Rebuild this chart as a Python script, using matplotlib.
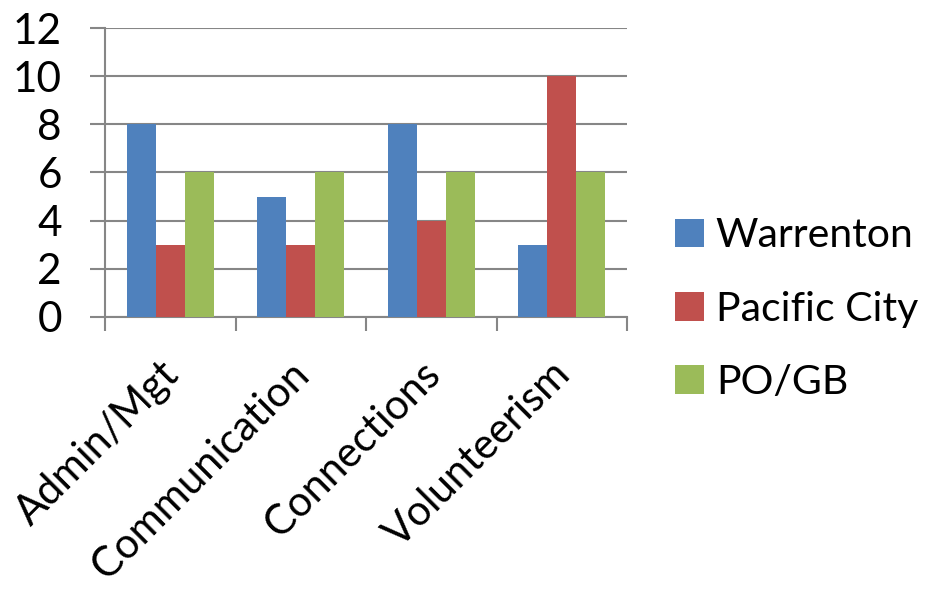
import numpy as np
import matplotlib.pyplot as plt
import matplotlib.transforms as mtransforms
from matplotlib.patches import Patch

# data
categories = ["Admin/Mgt", "Communication", "Connections", "Volunteerism"]
warrenton = [8, 5, 8, 3]
pacific_city = [3, 3, 4, 10]
po_gb = [6, 6, 6, 6]

series = [("Warrenton", warrenton, "#4F81BD"),
          ("Pacific City", pacific_city, "#C0504D"),
          ("PO/GB", po_gb, "#9BBB59")]

plt.rcParams['font.family'] = ['Lato', 'DejaVu Sans']

fig = plt.figure(figsize=(9.31, 5.93), dpi=100)
ax = fig.add_axes([105 / 931, 1 - 317 / 593, (627 - 105) / 931, (317 - 28) / 593])

x = np.arange(len(categories))
w = 1 / 4.5
for i, (name, vals, col) in enumerate(series):
    ax.bar(x + (i - 1) * w, vals, width=w, color=col, zorder=3)

ax.set_xlim(-0.5, len(categories) - 0.5)
ax.set_ylim(0, 12)
ax.set_yticks(range(0, 13, 2))
ax.yaxis.grid(True, color="#868686", linewidth=1.5, zorder=0)
ax.set_axisbelow(True)

for s in ["top", "right"]:
    ax.spines[s].set_visible(False)
for s in ["left", "bottom"]:
    ax.spines[s].set_color("#868686")
    ax.spines[s].set_linewidth(1.5)

ax.tick_params(axis="y", length=11, width=1.5, color="#868686", labelsize=30.5, pad=20)

# category labels at centres, tick marks at boundaries
ax.set_xticks(x)
ax.set_xticklabels(categories, rotation=45, ha="right", va="top",
                   rotation_mode="anchor", fontsize=30)
ax.tick_params(axis="x", which="major", length=0, pad=30)
ax.set_xticks(np.arange(-0.5, len(categories), 1), minor=True)
ax.tick_params(axis="x", which="minor", length=10, width=1.5, color="#868686")
shift = mtransforms.ScaledTranslation(-0.11, 0.04, fig.dpi_scale_trans)
for lab in ax.get_xticklabels():
    lab.set_transform(lab.get_transform() + shift)

handles = [Patch(facecolor=c, label=n) for n, _, c in series]
fig.legend(handles=handles, loc="center left", bbox_to_anchor=(638 / 931, 1 - 309 / 593),
           frameon=False, fontsize=29.5, handlelength=0.7, handleheight=0.7,
           handletextpad=0.3, labelspacing=0.88)

fig.savefig("out.png", dpi=100)
